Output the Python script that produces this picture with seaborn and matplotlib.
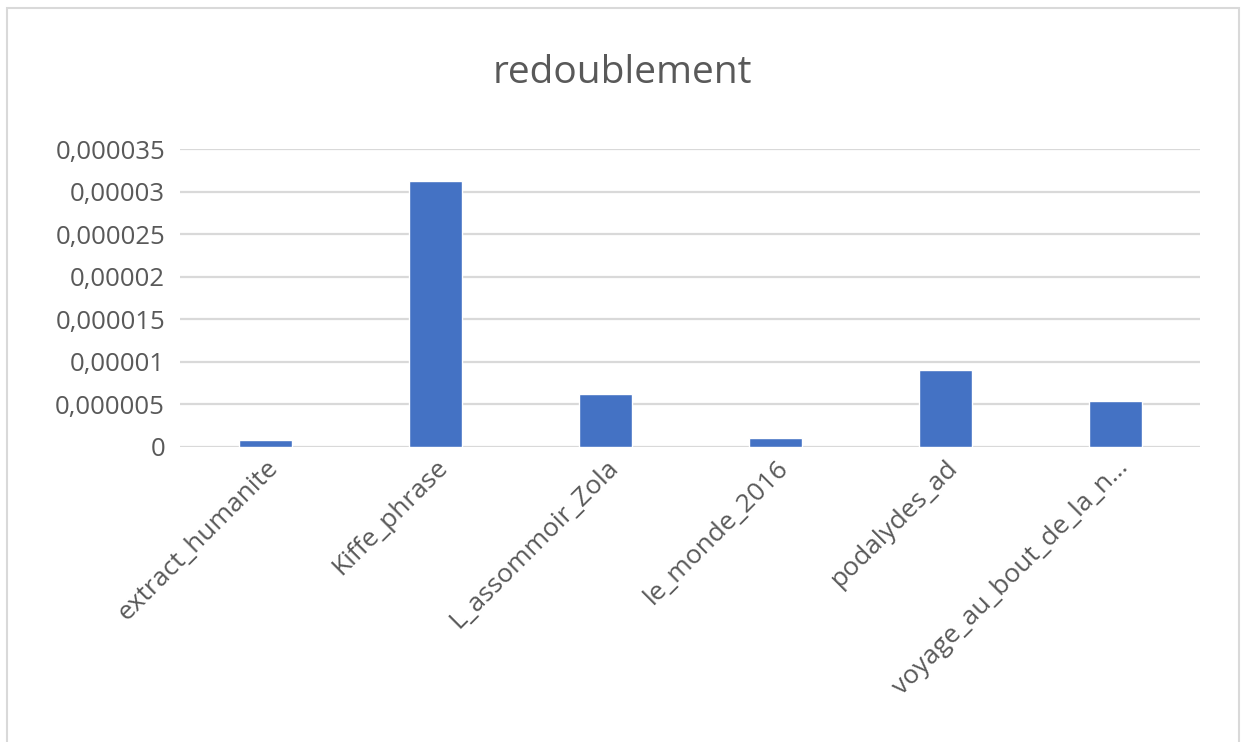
import matplotlib
matplotlib.use("Agg")
import matplotlib.pyplot as plt
import matplotlib.ticker as mticker
import seaborn as sns
import pandas as pd

# values
corpus = ["extract_humanite", "Kiffe_phrase", "L_assommoir_Zola",
          "le_monde_2016", "podalydes_ad", "voyage_au_bout_de_la_n\u2026"]
redoublement = [0.00000078, 0.0000312, 0.00000615, 0.00000102, 0.00000903, 0.00000542]
y_ticks = [0, 0.000005, 0.00001, 0.000015, 0.00002, 0.000025, 0.00003, 0.000035]

df = pd.DataFrame({"corpus": corpus, "redoublement": redoublement})

sns.set_style("white")
plt.rcParams["font.family"] = ["Open Sans", "DejaVu Sans"]

fig = plt.figure(figsize=(12.44, 7.42), dpi=100)
ax = fig.add_axes([0.145, 0.398, 0.82, 0.401])

sns.barplot(data=df, x="corpus", y="redoublement", color="#4472C4",
            width=0.313, saturation=1, ax=ax, zorder=3)

ax.set_ylim(0, 0.000035)
ax.set_xlim(-0.5, len(corpus) - 0.5)
ax.set_yticks(y_ticks)


def fr_fmt(v, pos):
    if v == 0:
        return "0"
    return f"{v:.6f}".rstrip("0").replace(".", ",")


ax.yaxis.set_major_formatter(mticker.FuncFormatter(fr_fmt))
ax.grid(axis="y", color="#d9d9d9", linewidth=1.6, zorder=0)
for s in ax.spines.values():
    s.set_visible(False)

ax.tick_params(axis="y", labelsize=18.5, labelcolor="#595959", length=0, pad=11)
ax.tick_params(axis="x", labelsize=19, labelcolor="#595959", length=0, pad=6)
plt.setp(ax.get_xticklabels(), rotation=45, ha="right", rotation_mode="anchor")
ax.set_xlabel("")
ax.set_ylabel("")

fig.text(0.5, 0.902, "redoublement", ha="center", va="center",
         fontsize=28, color="#595959")

# chart frame like the spreadsheet
fig.patches.append(plt.Rectangle((0.006, -0.01), 0.99, 0.999, transform=fig.transFigure,
                                 fill=False, edgecolor="#d9d9d9", linewidth=1.5))

fig.savefig("out.png", dpi=100)
